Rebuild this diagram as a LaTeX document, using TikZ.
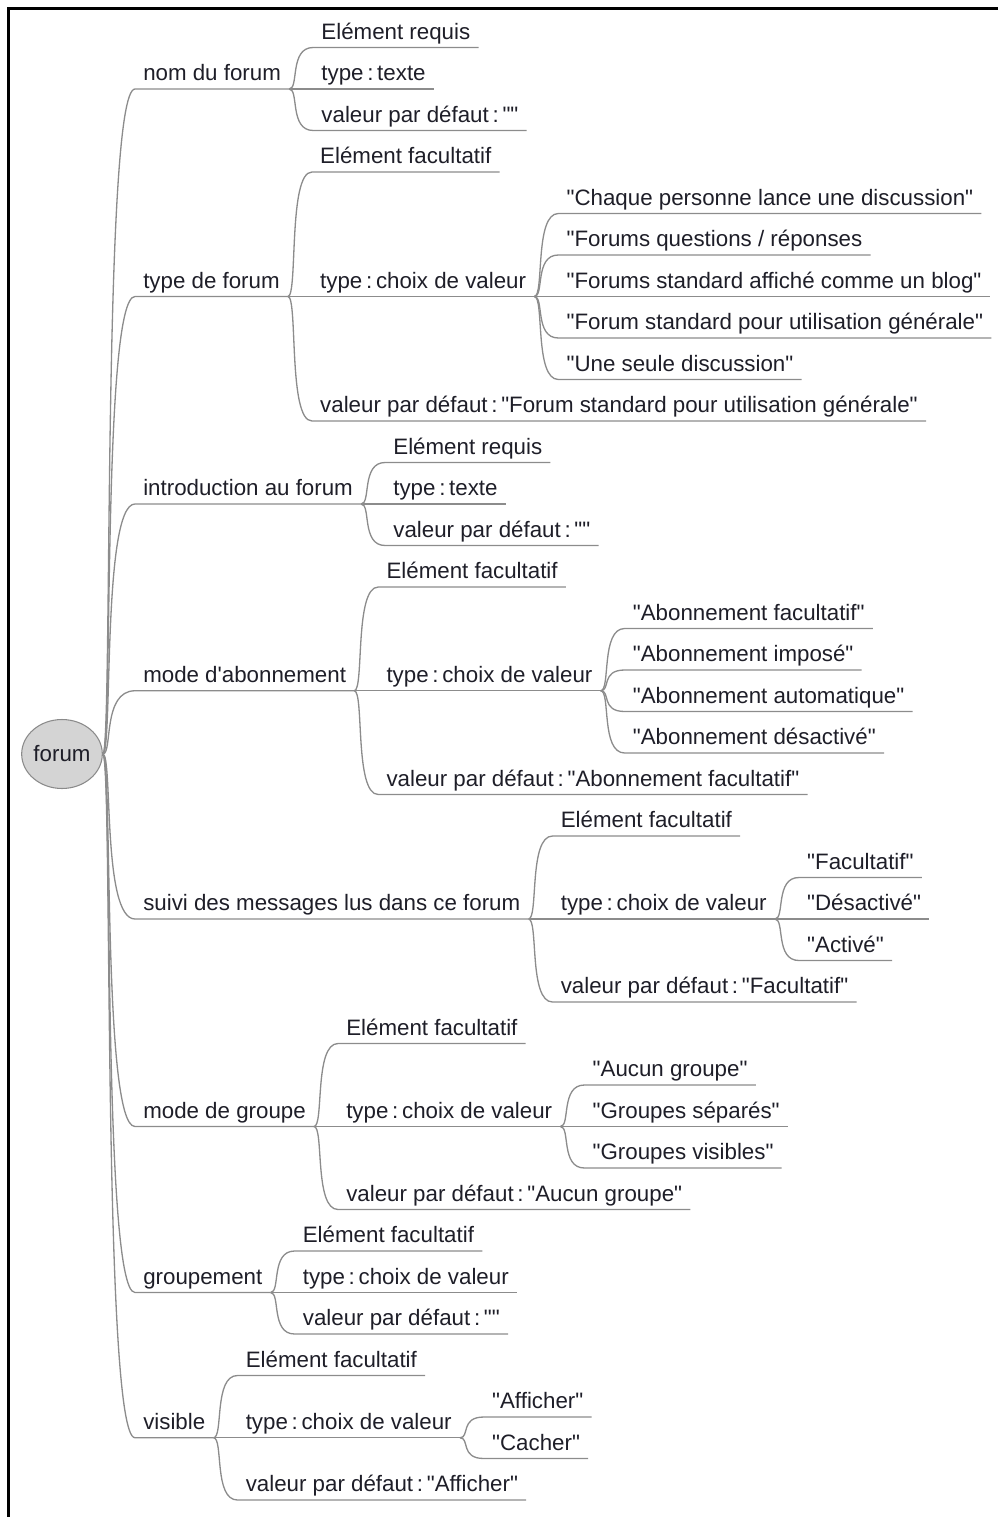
\documentclass[tikz,border=0pt]{standalone}
\usepackage{fontspec}
\newfontfamily\mapfont{Liberation Sans}
\usepackage{xcolor}
\usepackage{tikz}
\usetikzlibrary{positioning,shapes.geometric,calc}

\definecolor{inkdark}{HTML}{1E1E28}
\definecolor{linegray}{HTML}{8C8C8C}
\definecolor{rootfill}{HTML}{D4D4D4}
\definecolor{rootdraw}{HTML}{8A8A8A}

\begin{document}
\frenchspacing
\begin{tikzpicture}[
    x=0.02cm, y=-0.02cm,
    font=\mapfont\fontsize{12.7}{15}\selectfont, text=inkdark,
    root/.style={ellipse, draw=rootdraw, fill=rootfill, line width=0.6pt, minimum width=1.6cm, minimum height=1.38cm, inner sep=0pt},
    leaf/.style={anchor=south west, inner xsep=4.5pt, inner ysep=1.5pt, text height=9pt, text depth=3pt},
    branch/.style={draw=linegray, line width=0.75pt}
]
  \useasboundingbox (0,0) rectangle (998,1517);
  % Frame
  \draw[line width=1.7pt] (8.5,1517) -- (8.5,8.5) -- (998,8.5);

  % Root
  \node[root] (forum) at (62,754) {forum};

  % First level
  \node[leaf] (nom) at (135,89) {nom du forum};
  \node[leaf] (typef) at (135,296.5) {type de forum};
  \node[leaf] (intro) at (135,504) {introduction au forum};
  \node[leaf] (abo) at (135,690.75) {mode d'abonnement};
  \node[leaf] (suivi) at (135,919) {suivi des messages lus dans ce forum};
  \node[leaf] (groupe) at (135,1126.5) {mode de groupe};
  \node[leaf] (grpmt) at (135,1292.5) {groupement};
  \node[leaf] (visible) at (135,1437.75) {visible};

  % nom du forum
  \node[leaf] (nomreq) at ($(nom.south east)+(24,-41.5)$) {Elément requis};
  \node[leaf] (nomtype) at ($(nom.south east)+(24,0)$) {type\,:\,texte};
  \node[leaf] (nomdef) at ($(nom.south east)+(24,41.5)$) {valeur par défaut\,:\,""};

  % type de forum
  \node[leaf] (typefreq) at ($(typef.south east)+(24,-124.5)$) {Elément facultatif};
  \node[leaf] (typefch) at ($(typef.south east)+(24,0)$) {type\,:\,choix de valeur};
  \node[leaf] (typefdef) at ($(typef.south east)+(24,124.5)$) {valeur par défaut\,:\,"Forum standard pour utilisation générale"};
  \node[leaf] (typefa) at ($(typefch.south east)+(24,-83)$) {"Chaque personne lance une discussion"};
  \node[leaf] (typefb) at ($(typefch.south east)+(24,-41.5)$) {"Forums questions / réponses};
  \node[leaf] (typefc) at ($(typefch.south east)+(24,0)$) {"Forums standard affiché comme un blog"};
  \node[leaf] (typefd) at ($(typefch.south east)+(24,41.5)$) {"Forum standard pour utilisation générale"};
  \node[leaf] (typefe) at ($(typefch.south east)+(24,83)$) {"Une seule discussion"};

  % introduction au forum
  \node[leaf] (introreq) at ($(intro.south east)+(24,-41.5)$) {Elément requis};
  \node[leaf] (introtype) at ($(intro.south east)+(24,0)$) {type\,:\,texte};
  \node[leaf] (introdef) at ($(intro.south east)+(24,41.5)$) {valeur par défaut\,:\,""};

  % mode d'abonnement
  \node[leaf] (aboreq) at ($(abo.south east)+(24,-103.75)$) {Elément facultatif};
  \node[leaf] (aboch) at ($(abo.south east)+(24,0)$) {type\,:\,choix de valeur};
  \node[leaf] (abodef) at ($(abo.south east)+(24,103.75)$) {valeur par défaut\,:\,"Abonnement facultatif"};
  \node[leaf] (aboa) at ($(aboch.south east)+(24,-62.25)$) {"Abonnement facultatif"};
  \node[leaf] (abob) at ($(aboch.south east)+(24,-20.75)$) {"Abonnement imposé"};
  \node[leaf] (aboc) at ($(aboch.south east)+(24,20.75)$) {"Abonnement automatique"};
  \node[leaf] (abod) at ($(aboch.south east)+(24,62.25)$) {"Abonnement désactivé"};

  % suivi des messages
  \node[leaf] (suivireq) at ($(suivi.south east)+(24,-83)$) {Elément facultatif};
  \node[leaf] (suivich) at ($(suivi.south east)+(24,0)$) {type\,:\,choix de valeur};
  \node[leaf] (suividef) at ($(suivi.south east)+(24,83)$) {valeur par défaut\,:\,"Facultatif"};
  \node[leaf] (suivia) at ($(suivich.south east)+(24,-41.5)$) {"Facultatif"};
  \node[leaf] (suivib) at ($(suivich.south east)+(24,0)$) {"Désactivé"};
  \node[leaf] (suivic) at ($(suivich.south east)+(24,41.5)$) {"Activé"};

  % mode de groupe
  \node[leaf] (groupereq) at ($(groupe.south east)+(24,-83)$) {Elément facultatif};
  \node[leaf] (groupech) at ($(groupe.south east)+(24,0)$) {type\,:\,choix de valeur};
  \node[leaf] (groupedef) at ($(groupe.south east)+(24,83)$) {valeur par défaut\,:\,"Aucun groupe"};
  \node[leaf] (groupea) at ($(groupech.south east)+(24,-41.5)$) {"Aucun groupe"};
  \node[leaf] (groupeb) at ($(groupech.south east)+(24,0)$) {"Groupes séparés"};
  \node[leaf] (groupec) at ($(groupech.south east)+(24,41.5)$) {"Groupes visibles"};

  % groupement
  \node[leaf] (grpmtreq) at ($(grpmt.south east)+(24,-41.5)$) {Elément facultatif};
  \node[leaf] (grpmtch) at ($(grpmt.south east)+(24,0)$) {type\,:\,choix de valeur};
  \node[leaf] (grpmtdef) at ($(grpmt.south east)+(24,41.5)$) {valeur par défaut\,:\,""};

  % visible
  \node[leaf] (visreq) at ($(visible.south east)+(24,-62.25)$) {Elément facultatif};
  \node[leaf] (visch) at ($(visible.south east)+(24,0)$) {type\,:\,choix de valeur};
  \node[leaf] (visdef) at ($(visible.south east)+(24,62.25)$) {valeur par défaut\,:\,"Afficher"};
  \node[leaf] (visa) at ($(visch.south east)+(24,-20.75)$) {"Afficher"};
  \node[leaf] (visb) at ($(visch.south east)+(24,20.75)$) {"Cacher"};

  % Branches from the root
  \draw[branch] (forum.east) .. controls +(10,0) and +(-33,0) .. (nom.south west) -- (nom.south east);
  \draw[branch] (forum.east) .. controls +(10,0) and +(-33,0) .. (typef.south west) -- (typef.south east);
  \draw[branch] (forum.east) .. controls +(10,0) and +(-33,0) .. (intro.south west) -- (intro.south east);
  \draw[branch] (forum.east) .. controls +(10,0) and +(-33,0) .. (abo.south west) -- (abo.south east);
  \draw[branch] (forum.east) .. controls +(10,0) and +(-33,0) .. (suivi.south west) -- (suivi.south east);
  \draw[branch] (forum.east) .. controls +(10,0) and +(-33,0) .. (groupe.south west) -- (groupe.south east);
  \draw[branch] (forum.east) .. controls +(10,0) and +(-33,0) .. (grpmt.south west) -- (grpmt.south east);
  \draw[branch] (forum.east) .. controls +(10,0) and +(-33,0) .. (visible.south west) -- (visible.south east);

  % Twigs
  \draw[branch] (nom.south east) .. controls +(10,0) and +(-24,0) .. (nomreq.south west) -- (nomreq.south east);
  \draw[branch] (nom.south east) .. controls +(10,0) and +(-24,0) .. (nomtype.south west) -- (nomtype.south east);
  \draw[branch] (nom.south east) .. controls +(10,0) and +(-24,0) .. (nomdef.south west) -- (nomdef.south east);

  \draw[branch] (typef.south east) .. controls +(10,0) and +(-24,0) .. (typefreq.south west) -- (typefreq.south east);
  \draw[branch] (typef.south east) .. controls +(10,0) and +(-24,0) .. (typefch.south west) -- (typefch.south east);
  \draw[branch] (typef.south east) .. controls +(10,0) and +(-24,0) .. (typefdef.south west) -- (typefdef.south east);
  \draw[branch] (typefch.south east) .. controls +(10,0) and +(-24,0) .. (typefa.south west) -- (typefa.south east);
  \draw[branch] (typefch.south east) .. controls +(10,0) and +(-24,0) .. (typefb.south west) -- (typefb.south east);
  \draw[branch] (typefch.south east) .. controls +(10,0) and +(-24,0) .. (typefc.south west) -- (typefc.south east);
  \draw[branch] (typefch.south east) .. controls +(10,0) and +(-24,0) .. (typefd.south west) -- (typefd.south east);
  \draw[branch] (typefch.south east) .. controls +(10,0) and +(-24,0) .. (typefe.south west) -- (typefe.south east);

  \draw[branch] (intro.south east) .. controls +(10,0) and +(-24,0) .. (introreq.south west) -- (introreq.south east);
  \draw[branch] (intro.south east) .. controls +(10,0) and +(-24,0) .. (introtype.south west) -- (introtype.south east);
  \draw[branch] (intro.south east) .. controls +(10,0) and +(-24,0) .. (introdef.south west) -- (introdef.south east);

  \draw[branch] (abo.south east) .. controls +(10,0) and +(-24,0) .. (aboreq.south west) -- (aboreq.south east);
  \draw[branch] (abo.south east) .. controls +(10,0) and +(-24,0) .. (aboch.south west) -- (aboch.south east);
  \draw[branch] (abo.south east) .. controls +(10,0) and +(-24,0) .. (abodef.south west) -- (abodef.south east);
  \draw[branch] (aboch.south east) .. controls +(10,0) and +(-24,0) .. (aboa.south west) -- (aboa.south east);
  \draw[branch] (aboch.south east) .. controls +(10,0) and +(-24,0) .. (abob.south west) -- (abob.south east);
  \draw[branch] (aboch.south east) .. controls +(10,0) and +(-24,0) .. (aboc.south west) -- (aboc.south east);
  \draw[branch] (aboch.south east) .. controls +(10,0) and +(-24,0) .. (abod.south west) -- (abod.south east);

  \draw[branch] (suivi.south east) .. controls +(10,0) and +(-24,0) .. (suivireq.south west) -- (suivireq.south east);
  \draw[branch] (suivi.south east) .. controls +(10,0) and +(-24,0) .. (suivich.south west) -- (suivich.south east);
  \draw[branch] (suivi.south east) .. controls +(10,0) and +(-24,0) .. (suividef.south west) -- (suividef.south east);
  \draw[branch] (suivich.south east) .. controls +(10,0) and +(-24,0) .. (suivia.south west) -- (suivia.south east);
  \draw[branch] (suivich.south east) .. controls +(10,0) and +(-24,0) .. (suivib.south west) -- (suivib.south east);
  \draw[branch] (suivich.south east) .. controls +(10,0) and +(-24,0) .. (suivic.south west) -- (suivic.south east);

  \draw[branch] (groupe.south east) .. controls +(10,0) and +(-24,0) .. (groupereq.south west) -- (groupereq.south east);
  \draw[branch] (groupe.south east) .. controls +(10,0) and +(-24,0) .. (groupech.south west) -- (groupech.south east);
  \draw[branch] (groupe.south east) .. controls +(10,0) and +(-24,0) .. (groupedef.south west) -- (groupedef.south east);
  \draw[branch] (groupech.south east) .. controls +(10,0) and +(-24,0) .. (groupea.south west) -- (groupea.south east);
  \draw[branch] (groupech.south east) .. controls +(10,0) and +(-24,0) .. (groupeb.south west) -- (groupeb.south east);
  \draw[branch] (groupech.south east) .. controls +(10,0) and +(-24,0) .. (groupec.south west) -- (groupec.south east);

  \draw[branch] (grpmt.south east) .. controls +(10,0) and +(-24,0) .. (grpmtreq.south west) -- (grpmtreq.south east);
  \draw[branch] (grpmt.south east) .. controls +(10,0) and +(-24,0) .. (grpmtch.south west) -- (grpmtch.south east);
  \draw[branch] (grpmt.south east) .. controls +(10,0) and +(-24,0) .. (grpmtdef.south west) -- (grpmtdef.south east);

  \draw[branch] (visible.south east) .. controls +(10,0) and +(-24,0) .. (visreq.south west) -- (visreq.south east);
  \draw[branch] (visible.south east) .. controls +(10,0) and +(-24,0) .. (visch.south west) -- (visch.south east);
  \draw[branch] (visible.south east) .. controls +(10,0) and +(-24,0) .. (visdef.south west) -- (visdef.south east);
  \draw[branch] (visch.south east) .. controls +(10,0) and +(-24,0) .. (visa.south west) -- (visa.south east);
  \draw[branch] (visch.south east) .. controls +(10,0) and +(-24,0) .. (visb.south west) -- (visb.south east);
\end{tikzpicture}
\end{document}
